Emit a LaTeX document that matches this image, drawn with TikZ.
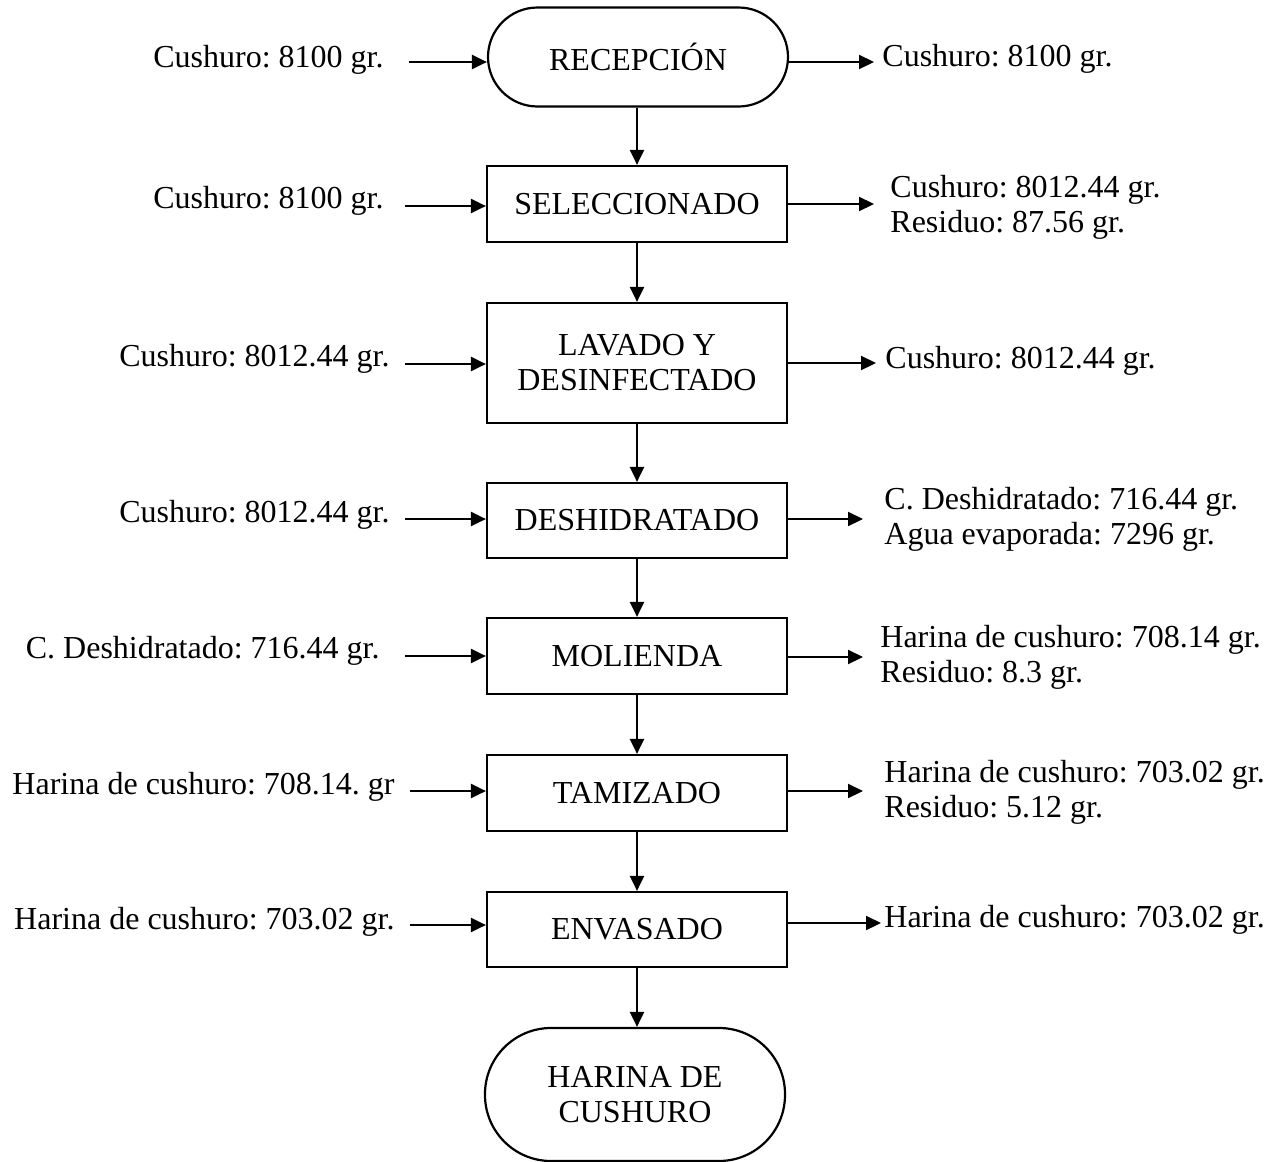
\documentclass[tikz,border=0pt]{standalone}
\usepackage{fontspec}
\setmainfont{Liberation Serif}
\usetikzlibrary{arrows.meta}
\frenchspacing
\begin{document}
\begin{tikzpicture}[x=0.5pt,y=-0.5pt,
  every node/.style={font=\frenchspacing\fontsize{16}{17.5}\selectfont, inner sep=0pt},
  procbox/.style={draw, line width=1.1pt, minimum width=150pt, minimum height=38pt, align=center},
  termbox/.style={procbox, rounded corners=24.75pt, minimum height=49.5pt},
  arr/.style={line width=1.1pt, -{Triangle[length=7.5pt,width=7pt]}},
  inlbl/.style={anchor=east},
  outlbl/.style={anchor=west, align=left}]
\useasboundingbox (0,0) rectangle (1281,1162);
% process nodes
\node[termbox] (R) at (638,57) {RECEPCIÓN};
\node[procbox] (S) at (637,204) {SELECCIONADO};
\node[procbox, minimum height=60pt] (L) at (637,363) {LAVADO Y\\DESINFECTADO};
\node[procbox, minimum height=37.5pt] (D) at (637,520.5) {DESHIDRATADO};
\node[procbox] (M) at (637,656) {MOLIENDA};
\node[procbox] (T) at (637,793) {TAMIZADO};
\node[procbox, minimum height=37.5pt] (E) at (637,929.5) {ENVASADO};
\node[procbox, rounded corners=33pt, minimum height=66.5pt] (H) at (635,1094.5) {HARINA DE\\CUSHURO};
% vertical flow
\draw[arr] (R.south -| S.north) -- (S.north);
\draw[arr] (S) -- (L);
\draw[arr] (L) -- (D);
\draw[arr] (D) -- (M);
\draw[arr] (M) -- (T);
\draw[arr] (T) -- (E);
\draw[arr] (E.south) -- (E.south |- H.north);
% input arrows (left)
\coordinate (iR) at (409,62);
\coordinate (iS) at (405,206);
\coordinate (iL) at (405,364);
\coordinate (iD) at (405,519);
\coordinate (iM) at (405,656);
\coordinate (iT) at (410,791);
\coordinate (iE) at (410,925);
\draw[arr] (iR) -- (iR -| R.west);
\draw[arr] (iS) -- (iS -| S.west);
\draw[arr] (iL) -- (iL -| L.west);
\draw[arr] (iD) -- (iD -| D.west);
\draw[arr] (iM) -- (iM -| M.west);
\draw[arr] (iT) -- (iT -| T.west);
\draw[arr] (iE) -- (iE -| E.west);
\node[inlbl] (lR) at (384,60) {Cushuro: 8100 gr.};
\node[inlbl] (lS) at (384,201) {Cushuro: 8100 gr.};
\node[inlbl] (lL) at (390,359) {Cushuro: 8012.44 gr.};
\node[inlbl] (lD) at (390,515) {Cushuro: 8012.44 gr.};
\node[inlbl] (lM) at (380,651) {C. Deshidratado: 716.44 gr.};
\node[inlbl] (lT) at (395,787) {Harina de cushuro: 708.14. gr};
\node[inlbl] (lE) at (395,922) {Harina de cushuro: 703.02 gr.};
% output arrows (right)
\coordinate (oR) at (874,62);
\coordinate (oS) at (874,204);
\coordinate (oL) at (876,363);
\coordinate (oD) at (863,519);
\coordinate (oM) at (863,657);
\coordinate (oT) at (863,791);
\coordinate (oE) at (881,923);
\draw[arr] (oR -| R.east) -- (oR);
\draw[arr] (oS -| S.east) -- (oS);
\draw[arr] (oL -| L.east) -- (oL);
\draw[arr] (oD -| D.east) -- (oD);
\draw[arr] (oM -| M.east) -- (oM);
\draw[arr] (oT -| T.east) -- (oT);
\draw[arr] (oE -| E.east) -- (oE);
\node[outlbl] (rR) at (882,59) {Cushuro: 8100 gr.};
\node[outlbl] (rS) at (890,207) {Cushuro: 8012.44 gr.\\Residuo: 87.56 gr.};
\node[outlbl] (rL) at (885,361) {Cushuro: 8012.44 gr.};
\node[outlbl] (rD) at (884,519) {C. Deshidratado: 716.44 gr.\\Agua evaporada: 7296 gr.};
\node[outlbl] (rM) at (880,657) {Harina de cushuro: 708.14 gr.\\Residuo: 8.3 gr.};
\node[outlbl] (rT) at (884,792) {Harina de cushuro: 703.02 gr.\\Residuo: 5.12 gr.};
\node[outlbl] (rE) at (884,920) {Harina de cushuro: 703.02 gr.};
\end{tikzpicture}
\end{document}
